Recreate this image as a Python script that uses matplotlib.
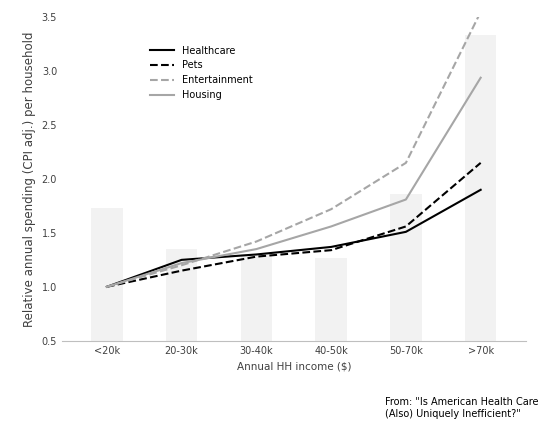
import matplotlib.pyplot as plt
import numpy as np

categories = ['<20k', '20-30k', '30-40k', '40-50k', '50-70k', '>70k']
bars = [1.73, 1.35, 1.30, 1.27, 1.86, 3.34]
healthcare = [1.0, 1.25, 1.30, 1.37, 1.51, 1.90]
pets = [1.0, 1.15, 1.28, 1.34, 1.56, 2.15]
entertainment = [1.0, 1.20, 1.42, 1.72, 2.15, 3.55]
housing = [1.0, 1.22, 1.35, 1.56, 1.81, 2.94]

fig = plt.figure(figsize=(5.39, 4.34), dpi=100)
ax = fig.add_axes([0.115, 0.215, 0.86, 0.745])
x = np.arange(len(categories))
ax.bar(x, np.array(bars) - 0.5, bottom=0.5, width=0.42, color='#f2f2f2', zorder=1)
ax.plot(x, healthcare, color='black', lw=1.5, label='Healthcare', zorder=3)
ax.plot(x, pets, color='black', lw=1.5, ls='--', label='Pets', zorder=3)
ax.plot(x, entertainment, color='#a6a6a6', lw=1.5, ls='--', label='Entertainment', zorder=3)
ax.plot(x, housing, color='#a6a6a6', lw=1.5, label='Housing', zorder=3)
ax.set_ylim(0.5, 3.5)
ax.set_xlim(-0.6, 5.6)
ax.set_yticks(np.arange(0.5, 3.51, 0.5))
ax.set_yticklabels(['%.1f' % v for v in np.arange(0.5, 3.51, 0.5)])
ax.set_xticks(x)
ax.set_xticklabels(categories)
ax.tick_params(labelsize=7, length=0, colors='#404040')
for s in ['top', 'right', 'left']:
    ax.spines[s].set_visible(False)
ax.spines['bottom'].set_color('#bfbfbf')
ax.set_xlabel('Annual HH income ($)', fontsize=7.5, color='#404040')
ax.set_ylabel('Relative annual spending (CPI adj.) per household', fontsize=8.5, color='#404040')
ax.legend(loc='upper left', bbox_to_anchor=(0.17, 0.94), frameon=False, fontsize=7, handlelength=2.5)
fig.text(0.715, 0.06, 'From: "Is American Health Care\n(Also) Uniquely Inefficient?"', fontsize=7, va='center')
fig.savefig('out.png')
